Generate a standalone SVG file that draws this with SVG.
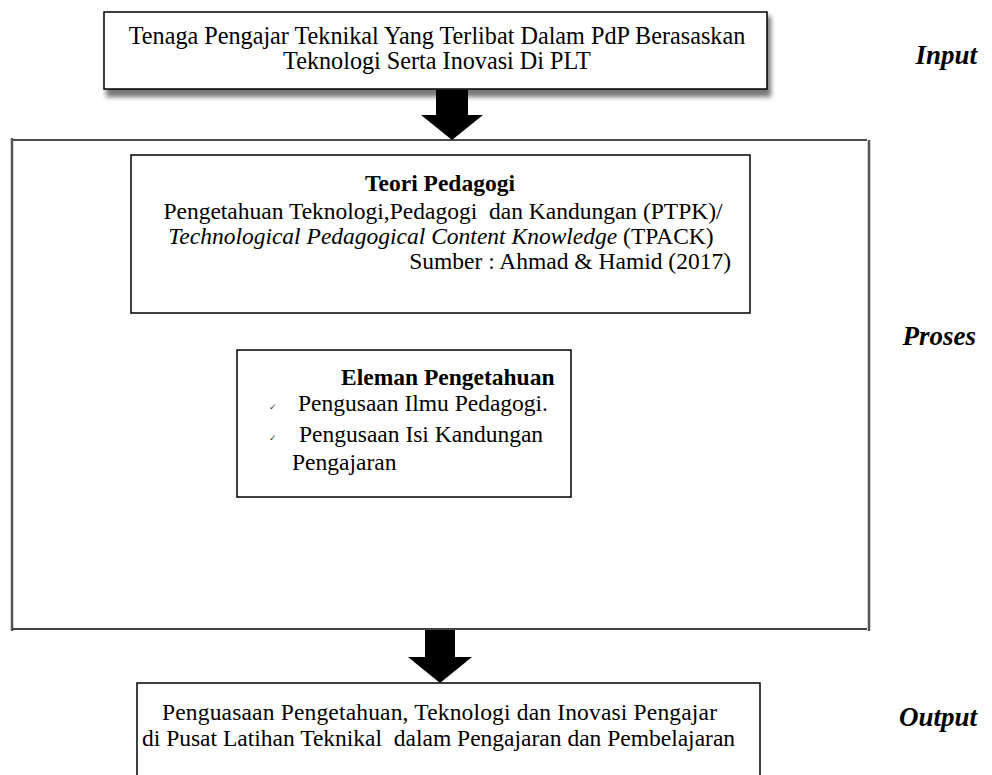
<svg xmlns="http://www.w3.org/2000/svg" width="992" height="775" viewBox="0 0 992 775">
<style>
.t{font-family:"Liberation Serif","Times New Roman",serif;font-size:23.5px;fill:#000}
.big{font-size:24.2px}
.b{font-weight:bold}
.i{font-style:italic}
.lbl{font-family:"Liberation Serif","Times New Roman",serif;font-size:27px;font-weight:bold;font-style:italic;fill:#000}
.box{fill:#fff;stroke:#000;stroke-width:1.5}
.arrow{fill:#000}
.chk{font-family:"DejaVu Sans",sans-serif;font-size:9px;fill:#333}
</style>
<defs>
<filter id="sh" x="-5%" y="-30%" width="110%" height="160%">
<feGaussianBlur stdDeviation="2.5"/>
</filter>
</defs>
<rect width="992" height="775" fill="#fff"/>

<g id="input-node">
<rect x="106" y="16" width="665" height="81" fill="#777" filter="url(#sh)"/>
<rect class="box" x="104" y="12" width="663" height="77"/>
<text class="t big" x="437" y="44" text-anchor="middle">Tenaga Pengajar Teknikal Yang Terlibat Dalam PdP Berasaskan</text>
<text class="t big" x="437" y="69" text-anchor="middle">Teknologi Serta Inovasi Di PLT</text>
</g>

<g id="process-frame">
<line x1="12" y1="140" x2="867" y2="140" stroke="#111" stroke-width="1.5"/>
<line x1="12" y1="138" x2="12" y2="631" stroke="#555" stroke-width="2.5"/>
<line x1="12" y1="629" x2="867" y2="629" stroke="#444" stroke-width="2"/>
<line x1="869" y1="140" x2="869" y2="631" stroke="#555" stroke-width="2.5"/>
</g>

<g id="teori-node">
<rect class="box" x="131" y="155" width="619" height="158"/>
<text class="t b" x="440" y="191" text-anchor="middle">Teori Pedagogi</text>
<text class="t" x="443" y="219" text-anchor="middle" xml:space="preserve">Pengetahuan Teknologi,Pedagogi  dan Kandungan (PTPK)/</text>
<text class="t" x="441" y="244" text-anchor="middle"><tspan class="i">Technological Pedagogical Content Knowledge</tspan> (TPACK)</text>
<text class="t" x="731" y="269" text-anchor="end">Sumber : Ahmad &amp; Hamid (2017)</text>
</g>

<g id="elemen-node">
<rect class="box" x="237" y="350" width="334" height="147"/>
<text class="t b" x="341" y="385">Eleman Pengetahuan</text>
<text class="chk" x="269" y="410">✓</text>
<text class="t" x="298" y="411">Pengusaan Ilmu Pedagogi.</text>
<text class="chk" x="269" y="441">✓</text>
<text class="t" x="299" y="442">Pengusaan Isi Kandungan</text>
<text class="t" x="292" y="470">Pengajaran</text>
</g>

<g id="output-node">
<rect class="box" x="137" y="683" width="623" height="110"/>
<text class="t" x="162" y="720" textLength="555">Penguasaan Pengetahuan, Teknologi dan Inovasi Pengajar</text>
<text class="t" x="142" y="746" xml:space="preserve">di Pusat Latihan Teknikal  dalam Pengajaran dan Pembelajaran</text>
</g>

<g id="labels">
<text class="lbl" x="977" y="64" text-anchor="end">Input</text>
<text class="lbl" x="976" y="345" text-anchor="end">Proses</text>
<text class="lbl" x="977" y="726" text-anchor="end">Output</text>
</g>

<g id="connectors">
<polygon class="arrow" points="436,90 468,90 468,115 483,115 452,140 421,115 436,115"/>
<polygon class="arrow" points="425,630 455,630 455,657 472,657 440,683 408,657 425,657"/>
</g>
</svg>
